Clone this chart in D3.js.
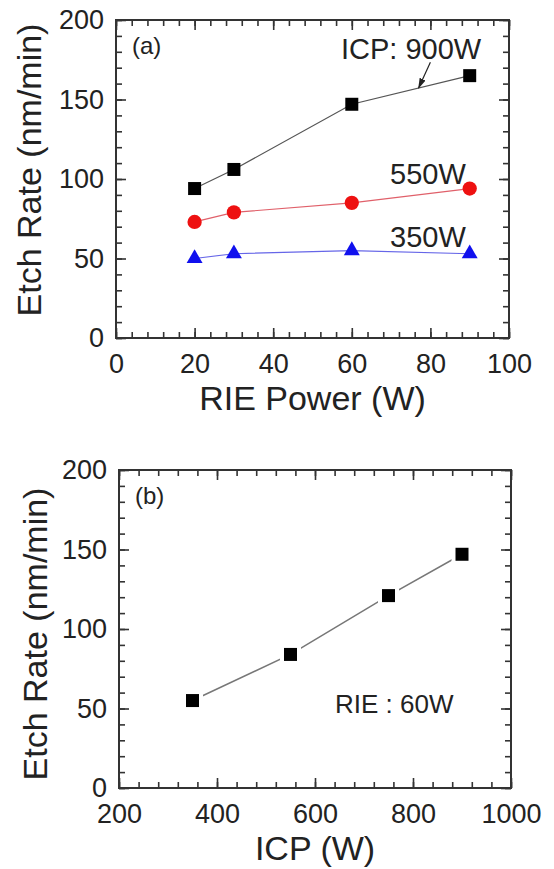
<!DOCTYPE html>
<html>
<head>
<meta charset="utf-8">
<script src="https://cdn.jsdelivr.net/npm/d3@7"></script>
<style>
  body { margin: 0; background: #fff; }
  svg text { font-family: "Liberation Sans", Arial, sans-serif; fill: #222; }
</style>
</head>
<body>
<svg id="chart"></svg>
<script>
// panel (a): etch rate vs RIE power for three ICP powers
const riePower = [20, 30, 60, 90];
const rateIcp900 = [94, 106, 147, 165];
const rateIcp550 = [73, 79, 85, 94];
const rateIcp350 = [50, 53, 55, 53];

// panel (b): etch rate vs ICP power at RIE 60W
const icpPower = [350, 550, 750, 900];
const rateRie60 = [55, 84, 121, 147];

const yTicks = [0, 50, 100, 150, 200];
const rieTicks = [0, 20, 40, 60, 80, 100];
const icpTicks = [200, 400, 600, 800, 1000];

const W = 554, H = 869;
const svg = d3.select("#chart").attr("width", W).attr("height", H);

function drawPanel(opt) {
  const g = svg.append("g");
  const x = d3.scaleLinear().domain(opt.xDomain).range([opt.left, opt.right]);
  const y = d3.scaleLinear().domain([0, 200]).range([opt.bottom, opt.top]);

  // minor ticks on all four sides
  const xMinor = d3.range(opt.xDomain[0], opt.xDomain[1] + 0.001, opt.xMinorStep);
  const yMinor = d3.range(0, 200.001, 10);
  const minor = [
    [d3.axisBottom(x).tickValues(xMinor), `translate(0,${opt.bottom})`],
    [d3.axisTop(x).tickValues(xMinor), `translate(0,${opt.top})`],
    [d3.axisLeft(y).tickValues(yMinor), `translate(${opt.left},0)`],
    [d3.axisRight(y).tickValues(yMinor), `translate(${opt.right},0)`]
  ];
  minor.forEach(([ax, tr]) => {
    g.append("g").attr("transform", tr)
      .call(ax.tickSize(-6).tickFormat(""))
      .call(s => s.select(".domain").remove());
  });

  // major ticks + labels
  g.append("g").attr("transform", `translate(0,${opt.bottom})`)
    .call(d3.axisBottom(x).tickValues(opt.xTicks).tickSize(-10).tickPadding(16).tickFormat(d3.format("d")))
    .call(s => s.select(".domain").remove())
    .call(s => s.selectAll("text").style("font-size", "27px").attr("fill", "#222"));
  g.append("g").attr("transform", `translate(0,${opt.top})`)
    .call(d3.axisTop(x).tickValues(opt.xTicks).tickSize(-10).tickFormat(""))
    .call(s => s.select(".domain").remove());
  g.append("g").attr("transform", `translate(${opt.left},0)`)
    .call(d3.axisLeft(y).tickValues(yTicks).tickSize(-10).tickPadding(12))
    .call(s => s.select(".domain").remove())
    .call(s => s.selectAll("text").style("font-size", "27px").attr("fill", "#222"));
  g.append("g").attr("transform", `translate(${opt.right},0)`)
    .call(d3.axisRight(y).tickValues(yTicks).tickSize(-10).tickFormat(""))
    .call(s => s.select(".domain").remove());

  g.selectAll(".tick line").attr("stroke", "#333").attr("stroke-width", 1.6);

  g.append("rect")
    .attr("x", opt.left).attr("y", opt.top)
    .attr("width", opt.right - opt.left).attr("height", opt.bottom - opt.top)
    .attr("fill", "none").attr("stroke", "#333").attr("stroke-width", 2);

  // axis titles
  g.append("text")
    .attr("x", (opt.left + opt.right) / 2).attr("y", opt.bottom + 72)
    .attr("text-anchor", "middle").style("font-size", "34px")
    .text(opt.xLabel);
  g.append("text")
    .attr("transform", `translate(${opt.yTitleX},${opt.yTitleY}) rotate(-90)`)
    .attr("text-anchor", "middle").style("font-size", "34px")
    .text("Etch Rate (nm/min)");

  g.append("text")
    .attr("x", opt.left + 16).attr("y", opt.top + 34)
    .style("font-size", "24px").text(opt.tag);

  return { g, x, y };
}

// ---------- panel (a)
const a = drawPanel({
  left: 116, right: 509, top: 20, bottom: 338,
  xDomain: [0, 100], xTicks: rieTicks, xMinorStep: 4,
  xLabel: "RIE Power (W)", yTitleX: 41, yTitleY: 170, tag: "(a)"
});

const seriesA = [
  { vals: rateIcp900, line: "#555", shape: d3.symbolSquare, size: 169, fill: "#000" },
  { vals: rateIcp550, line: "#e0606a", shape: d3.symbolCircle, size: 160, fill: "#ee1111" },
  { vals: rateIcp350, line: "#6666e8", shape: d3.symbolTriangle, size: 110, fill: "#1010ee" }
];

seriesA.forEach(s => {
  const pts = riePower.map((p, i) => [p, s.vals[i]]);
  a.g.append("path")
    .datum(pts)
    .attr("fill", "none").attr("stroke", s.line).attr("stroke-width", 1.2)
    .attr("d", d3.line().x(d => a.x(d[0])).y(d => a.y(d[1])));
  a.g.selectAll(null).data(pts).enter().append("path")
    .attr("transform", d => `translate(${a.x(d[0])},${a.y(d[1])})`)
    .attr("d", d3.symbol().type(s.shape).size(s.size))
    .attr("fill", s.fill);
});

a.g.append("text").attr("x", 341).attr("y", 59).style("font-size", "29px").text("ICP: 900W");
a.g.append("text").attr("x", 390).attr("y", 184).style("font-size", "29px").text("550W");
a.g.append("text").attr("x", 390).attr("y", 247).style("font-size", "29px").text("350W");

// arrow from label to the 900W line
svg.append("defs").append("marker")
  .attr("id", "head").attr("viewBox", "0 0 10 10")
  .attr("refX", 9).attr("refY", 5)
  .attr("markerWidth", 9).attr("markerHeight", 9)
  .attr("orient", "auto")
  .append("path").attr("d", "M0,2 L10,5 L0,8 Z").attr("fill", "#222");
const tipX = 77;
const tipY = 147 + (tipX - 60) / 30 * (165 - 147);
a.g.append("line")
  .attr("x1", a.x(80)).attr("y1", a.y(173.5))
  .attr("x2", a.x(tipX)).attr("y2", a.y(tipY))
  .attr("stroke", "#222").attr("stroke-width", 1.2)
  .attr("marker-end", "url(#head)");

// ---------- panel (b)
const b = drawPanel({
  left: 119, right: 511, top: 470, bottom: 788,
  xDomain: [200, 1000], xTicks: icpTicks, xMinorStep: 40,
  xLabel: "ICP (W)", yTitleX: 47, yTitleY: 634, tag: "(b)"
});

const ptsB = icpPower.map((p, i) => [p, rateRie60[i]]);
b.g.append("path")
  .datum(ptsB)
  .attr("fill", "none").attr("stroke", "#777").attr("stroke-width", 1.5)
  .attr("d", d3.line().x(d => b.x(d[0])).y(d => b.y(d[1])));
b.g.selectAll(null).data(ptsB).enter().append("path")
  .attr("transform", d => `translate(${b.x(d[0])},${b.y(d[1])})`)
  .attr("d", d3.symbol().type(d3.symbolSquare).size(169))
  .attr("fill", "#000").attr("stroke", "#fff").attr("stroke-width", 8)
  .style("paint-order", "stroke");

b.g.append("text").attr("x", 335).attr("y", 713).style("font-size", "26px").text("RIE : 60W");
</script>
</body>
</html>
